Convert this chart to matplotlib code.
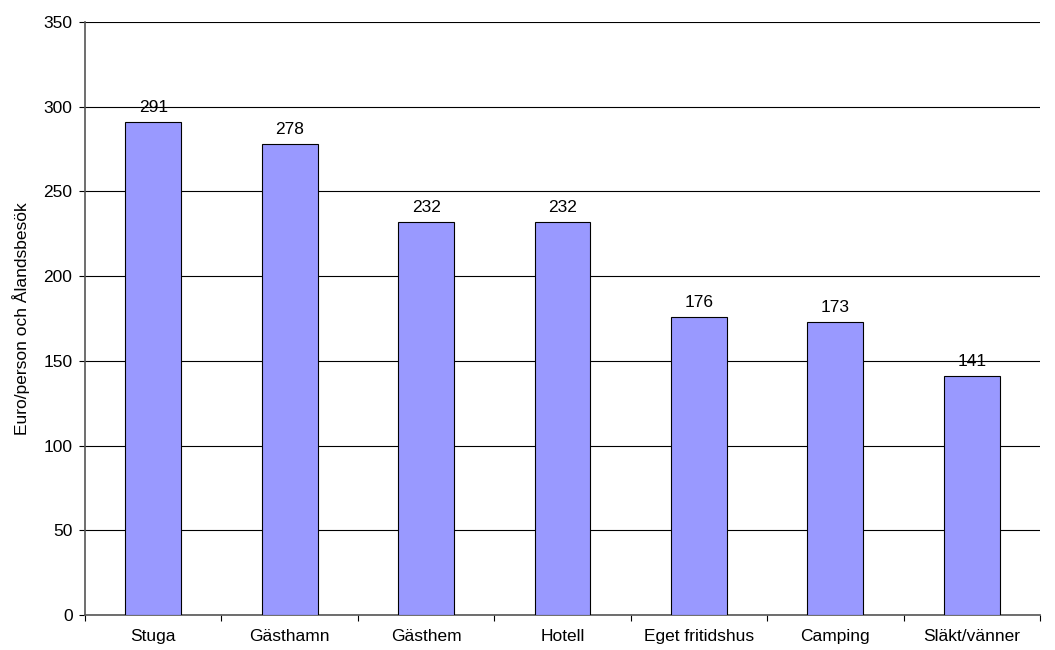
import matplotlib
matplotlib.use("Agg")
import matplotlib.pyplot as plt
from matplotlib.ticker import FixedLocator, NullFormatter

categories = ["Stuga", "Gästhamn", "Gästhem", "Hotell", "Eget fritidshus", "Camping", "Släkt/vänner"]
values = [291, 278, 232, 232, 176, 173, 141]
yticks = [0, 50, 100, 150, 200, 250, 300, 350]

plt.rcParams['font.family'] = ['Liberation Sans', 'DejaVu Sans']
plt.rcParams['font.size'] = 12.5

fig = plt.figure(figsize=(10.55, 6.5), dpi=100)
ax = fig.add_axes([85/1055, 35/650, (1040-85)/1055, (615-22)/650])

x = list(range(len(categories)))
ax.bar(x, values, width=0.41, color="#9999FF", edgecolor="black", linewidth=0.8, zorder=3)
for xi, v in zip(x, values):
    ax.text(xi, v + 4, str(v), ha="center", va="bottom", fontsize=12.5)

ax.set_xlim(-0.5, len(categories) - 0.5)
ax.set_ylim(0, 350)
ax.set_yticks(yticks)
ax.yaxis.grid(True, color="black", linewidth=0.8, zorder=0)
ax.set_xticks(x)
ax.set_xticklabels(categories)
ax.tick_params(axis="x", which="major", length=0, pad=10)
ax.xaxis.set_minor_locator(FixedLocator([i - 0.5 for i in range(len(categories) + 1)]))
ax.xaxis.set_minor_formatter(NullFormatter())
ax.tick_params(axis="x", which="minor", length=4, width=0.8, direction="out")
ax.tick_params(axis="y", length=4, width=0.8, direction="out", pad=5)
for s in ["top", "right"]:
    ax.spines[s].set_visible(False)
ax.spines["left"].set_color("#555555")
ax.spines["bottom"].set_color("#555555")
ax.spines["left"].set_linewidth(1.2)
ax.spines["bottom"].set_linewidth(1.2)
ax.set_ylabel("Euro/person och Ålandsbesök", fontsize=12.5)
ax.yaxis.set_label_coords(-0.058, 0.5)

fig.savefig("out.png", dpi=100)
